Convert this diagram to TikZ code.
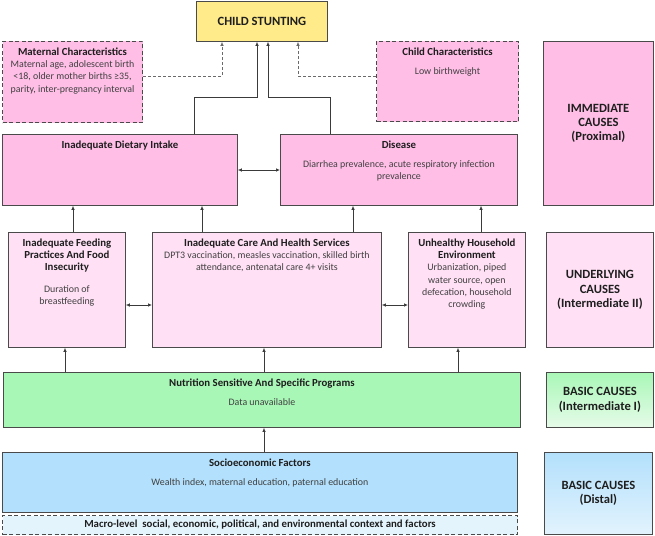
\documentclass[tikz,border=0pt]{standalone}
\usepackage{fontspec}
\setmainfont{Carlito}
\usetikzlibrary{arrows.meta}

\definecolor{linec}{HTML}{4A4A4A}
\definecolor{arrc}{HTML}{3A3A3A}
\definecolor{dashc}{HTML}{6A6A6A}
\definecolor{headc}{HTML}{1E1E1E}
\definecolor{bodyc}{HTML}{404040}
\definecolor{yellowc}{HTML}{FFEB8A}
\definecolor{pinkA}{HTML}{FFBEE6}
\definecolor{pinkB}{HTML}{FFE0F5}
\definecolor{greenc}{HTML}{A9F7B7}
\definecolor{greenl}{HTML}{E6FBE9}
\definecolor{bluec}{HTML}{B3E0FC}
\definecolor{bluel}{HTML}{E2F3FD}
\definecolor{macroc}{HTML}{E4F4FD}

\newcommand{\cbox}[3]{\parbox[t][#2][t]{#1}{\centering\vspace*{6.5pt}#3}}
\newcommand{\hd}[1]{{\fontsize{10.8}{12.6}\selectfont\bfseries\color{headc}#1}}

\begin{document}
\begin{tikzpicture}[x=1pt,y=-1pt,
    cause/.style={draw=linec, line width=0.8pt, inner sep=0pt, anchor=north west,
      text=bodyc, font=\fontsize{9.9}{12.2}\selectfont},
    tier/.style={cause, align=center, text=headc, font=\fontsize{12.6}{14.4}\selectfont\bfseries},
    dashbox/.style={dash pattern=on 4pt off 2.5pt, line width=1pt},
    arr/.style={draw=arrc, line width=0.7pt, -{Latex[length=4pt,width=3.5pt]}},
    dbl/.style={arr, {Latex[length=4pt,width=3.5pt]}-{Latex[length=4pt,width=3.5pt]}},
    dsh/.style={arr, draw=dashc, dash pattern=on 3pt off 2pt}]
  \useasboundingbox (0,0) rectangle (655,535);

  % Nodes
  \node[tier, fill=yellowc, minimum width=131pt, minimum height=40pt,
    font=\fontsize{12.6}{15}\selectfont\bfseries] (stunt) at (196,1) {CHILD STUNTING};
  \node[cause, dashbox, fill=pinkA] (maternal) at (2,41) {\cbox{140pt}{81pt}{%
    \hd{Maternal Characteristics}\\ Maternal age, adolescent birth\\
    <18, older mother births ≥35,\\ parity, inter-pregnancy interval}};
  \node[cause, dashbox, fill=pinkA] (childc) at (376,41) {\cbox{142pt}{80pt}{%
    \hd{Child Characteristics}\\[7pt] Low birthweight}};
  \node[tier, fill=pinkA, minimum width=110pt, minimum height=164pt] (immediate) at (543,41)
    {IMMEDIATE\\ CAUSES\\ (Proximal)};

  \node[cause, fill=pinkA] (diet) at (2,134) {\cbox{235pt}{71pt}{%
    \hd{Inadequate Dietary Intake}}};
  \node[cause, fill=pinkA] (disease) at (280,134) {\cbox{237pt}{71pt}{%
    \hd{Disease}\\[7pt] Diarrhea prevalence, acute respiratory infection\\ prevalence}};

  \node[cause, fill=pinkB] (feeding) at (8,232) {\cbox{117pt}{115pt}{%
    \hd{Inadequate Feeding}\\ \hd{Practices And Food}\\ \hd{Insecurity}\\[9pt]
    Duration of\\ breastfeeding}};
  \node[cause, fill=pinkB] (care) at (152,232) {\cbox{229pt}{115pt}{%
    \hd{Inadequate Care And Health Services}\\
    DPT3 vaccination, measles vaccination, skilled birth\\ attendance, antenatal care 4+ visits}};
  \node[cause, fill=pinkB] (household) at (408,232) {\cbox{117pt}{115pt}{%
    \hd{Unhealthy Household}\\ \hd{Environment}\\ Urbanization, piped\\
    water source, open\\ defecation, household\\ crowding}};
  \node[tier, fill=pinkB, minimum width=107pt, minimum height=115pt] (underlying) at (546,232)
    {UNDERLYING\\ CAUSES\\ (Intermediate II)};

  \node[cause, fill=greenc] (nutr) at (3,372) {\cbox{517pt}{55pt}{%
    \hd{Nutrition Sensitive And Specific Programs}\\[7pt] Data unavailable}};
  \node[tier, top color=greenc, bottom color=greenl, minimum width=107pt, minimum height=55pt]
    (basic1) at (546,372) {BASIC CAUSES\\ (Intermediate I)};

  \node[cause, fill=bluec] (socio) at (2,452) {\cbox{515pt}{60pt}{%
    \hd{Socioeconomic Factors}\\[7pt] Wealth index, maternal education, paternal education}};
  \node[cause, dashbox, fill=macroc, minimum width=515pt, minimum height=19pt,
    text=headc, font=\fontsize{10.8}{12}\selectfont\bfseries] (macro) at (2,515)
    {Macro-level\ \ social, economic, political, and environmental context and factors};
  \node[tier, top color=bluec, bottom color=bluel, minimum width=108pt, minimum height=82pt]
    (basic2) at (544,452) {BASIC CAUSES\\ (Distal)};

  % Links into child stunting
  \coordinate (j1) at (194,97);
  \coordinate (j2) at (257,97);
  \coordinate (k1) at (330,97);
  \coordinate (k2) at (268,97);
  \coordinate (m1) at (222,76);
  \coordinate (c1) at (298,76);
  \draw[arr] (diet.north -| j1) -- (j1) -| (stunt.south -| j2);
  \draw[arr] (disease.north -| k1) -- (k1) -| (stunt.south -| k2);
  \draw[dsh] (maternal.east |- m1) -| (stunt.south -| m1);
  \draw[dsh] (childc.west |- c1) -| (stunt.south -| c1);

  % Two-way links
  \draw[dbl] (diet.east |- 0,170) -- (disease.west |- 0,170);
  \draw[dbl] (feeding.east |- 0,305) -- (care.west |- 0,305);
  \draw[dbl] (care.east |- 0,305) -- (household.west |- 0,305);

  % Upward links
  \foreach \x/\a/\b in {73/feeding/diet, 202/care/diet, 353/care/disease,
      481/household/disease, 65/nutr/feeding, 264/nutr/care,
      458/nutr/household, 264/socio/nutr}
    \draw[arr] (\a.north -| \x,0) -- (\b.south -| \x,0);
\end{tikzpicture}
\end{document}
